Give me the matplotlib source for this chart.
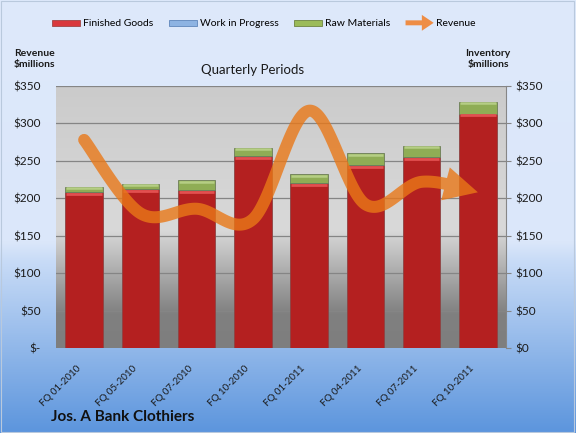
import numpy as np
import matplotlib
matplotlib.use('Agg')
import matplotlib.pyplot as plt
from matplotlib.patches import Polygon, Rectangle, FancyArrow, Patch, PathPatch
from matplotlib.path import Path
from matplotlib.collections import PatchCollection
from matplotlib.legend_handler import HandlerPatch
from matplotlib.colors import LinearSegmentedColormap
from matplotlib.transforms import ScaledTranslation

categories = ['FQ 01-2010', 'FQ 05-2010', 'FQ 07-2010', 'FQ 10-2010',
              'FQ 01-2011', 'FQ 04-2011', 'FQ 07-2011', 'FQ 10-2011']
finished_goods = [208, 212, 211, 256, 220, 244, 255, 313]
work_in_progress = [0, 0, 0, 0, 0, 0, 0, 0]
raw_materials = [7, 7, 13, 11, 12, 16, 15, 16]
revenue = [278, 180, 186, 172, 317, 192, 222, 208]
tick_values = [0, 50, 100, 150, 200, 250, 300, 350]
left_tick_labels = ['$-', '$50', '$100', '$150', '$200', '$250', '$300', '$350']
right_tick_labels = ['$0', '$50', '$100', '$150', '$200', '$250', '$300', '$350']

plt.rcParams['font.family'] = ['Lato', 'DejaVu Sans']

DPI = 100
fig = plt.figure(figsize=(5.76, 4.33), dpi=DPI)

# figure background gradient
bg = fig.add_axes([0, 0, 1, 1], zorder=-10)
bg_cmap = LinearSegmentedColormap.from_list(
    'bg', [(0, '#DEE9FB'), (0.56, '#DBE7FA'), (0.60, '#C9DCF7'), (1.0, '#5C95DD')])
grad = np.linspace(0, 1, 256).reshape(-1, 1)
bg.imshow(grad, aspect='auto', cmap=bg_cmap, extent=[0, 1, 0, 1], origin='upper')
bg.set_axis_off()
fig.patches.append(Rectangle((0.002, 0.003), 0.995, 0.994, transform=fig.transFigure,
                             fill=False, edgecolor='#B9C9DD', lw=0.8))

ax = fig.add_axes([56 / 576, 1 - 348 / 433, 450 / 576, 262 / 433])
ax.set_xlim(-0.5, len(categories) - 0.5)
ax.set_ylim(0, 350)

plot_cmap = LinearSegmentedColormap.from_list(
    'plot', [(0, '#CBCBCB'), (0.55, '#D9D9D9'), (0.87, '#808080'), (1.0, '#7E7E7E')])
ax.imshow(grad, aspect='auto', cmap=plot_cmap,
          extent=[-0.5, len(categories) - 0.5, 0, 350], origin='upper', zorder=0)

ax.set_yticks(tick_values, left_tick_labels)
ax.set_axisbelow(True)
ax.grid(axis='y', color='#858585', lw=0.9)
ax.tick_params(axis='y', length=0, pad=11, labelsize=8.5, labelcolor='#1a1a1a')
for s in ax.spines.values():
    s.set_visible(False)

x = np.arange(len(categories))
fg = np.array(finished_goods, float)
wip = np.array(work_in_progress, float)
rm = np.array(raw_materials, float)
w = 0.667
ax.bar(x, fg, w, color='#B42020', edgecolor='#8C4444', lw=0.6, zorder=2)
ax.bar(x, wip, w, bottom=fg, color='#7FA6DA', edgecolor='#5A7DB0', lw=0.6, zorder=2)
ax.bar(x, rm, w, bottom=fg + wip, color='#8FAD55', edgecolor='#6C7D56', lw=0.6, zorder=2)
ax.hlines(fg - 2.2, x - w / 2 + 0.02, x + w / 2 - 0.02, color='#E25050', lw=2.0, zorder=2.2)
ax.hlines(fg + wip + rm - 1.6, x - w / 2 + 0.02, x + w / 2 - 0.02, color='#B5CE84', lw=1.8, zorder=2.2)

ax.set_xticks(x, categories, rotation=45, ha='right', va='center', rotation_mode='anchor')
ax.tick_params(axis='x', length=0, pad=14, labelsize=7, labelcolor='#1a1a1a')
for lab in ax.get_xticklabels():
    lab.set_transform(lab.get_transform() + ScaledTranslation(-5 / 100, 0, fig.dpi_scale_trans))

# right axis
ax2 = ax.twinx()
ax2.set_ylim(0, 350)
ax2.set_yticks(tick_values, right_tick_labels)
ax2.patch.set_visible(False)
for k, s in ax2.spines.items():
    s.set_visible(k == 'right')
ax2.spines['right'].set_color('#868686')
ax2.spines['right'].set_linewidth(0.8)
ax2.tick_params(axis='y', direction='out', length=3.6, width=0.8, color='#868686',
                pad=3, labelsize=8.5, labelcolor='#1a1a1a')

# revenue smoothed arrow line
pts = np.column_stack([x.astype(float), np.array(revenue, float)])
disp = ax.transData.transform(pts)
n = len(disp)
curve = []
for i in range(n - 1):
    p0 = disp[i - 1] if i > 0 else disp[i]
    p1 = disp[i]
    p2 = disp[i + 1]
    p3 = disp[i + 2] if i + 2 < n else disp[i + 1]
    c1 = p1 + (p2 - p0) / 6
    c2 = p2 - (p3 - p1) / 6
    t = np.linspace(0, 1, 80)[:, None]
    if i > 0:
        t = t[1:]
    seg = (1 - t) ** 3 * p1 + 3 * (1 - t) ** 2 * t * c1 + 3 * (1 - t) * t ** 2 * c2 + t ** 3 * p2
    curve.append(seg)
curve = np.vstack(curve)
tip = disp[-1]
head_len = 33.0
head_hw = 17.0
dist = np.hypot(*(curve - tip).T)
idx = np.where(dist >= head_len)[0][-1]
base = curve[idx]
d = (tip - base) / np.hypot(*(tip - base))
nrm = np.array([-d[1], d[0]])
shaft = np.vstack([curve[:idx + 1], base + d * 4])
head = np.array([base - nrm * head_hw, tip, base + nrm * head_hw])
inv = ax.transData.inverted()
shaft_patch = PathPatch(Path(inv.transform(shaft)), facecolor='none', edgecolor='#E97818', lw=12 * 72 / DPI)
head_patch = Polygon(inv.transform(head), closed=True, facecolor='#E97818', edgecolor='none')
coll = PatchCollection([shaft_patch, head_patch], match_original=True, zorder=3)
coll.set_capstyle('round')
coll.set_joinstyle('round')


def fade(img, dpi):
    img = img.copy()
    img[..., 3] *= 0.8
    return img, 0, 0


coll.set_agg_filter(fade)
ax.add_collection(coll)

# legend
def make_arrow(legend, orig_handle, xdescent, ydescent, width, height, fontsize):
    return FancyArrow(-xdescent, -ydescent + height / 2, width, 0, width=height * 0.75,
                      head_width=height * 2.4, head_length=width * 0.42,
                      length_includes_head=True)


handles = [Patch(facecolor='#D9383C', edgecolor='#A04545', lw=0.6),
           Patch(facecolor='#8DB3E2', edgecolor='#5F86BA', lw=0.6),
           Patch(facecolor='#9BBB59', edgecolor='#6E8440', lw=0.6),
           FancyArrow(0, 0, 1, 0, facecolor='#EE8D45', edgecolor='none', lw=0)]
labels = ['Finished Goods', 'Work in Progress', 'Raw Materials', 'Revenue']
fig.legend(handles, labels, loc='center', bbox_to_anchor=(264 / 576, 1 - 24 / 433),
           ncol=4, frameon=False, fontsize=7.5, handlelength=2.7, handleheight=0.6,
           handletextpad=0.25, columnspacing=1.5,
           handler_map={FancyArrow: HandlerPatch(patch_func=make_arrow)})

fig.text(253 / 576, 1 - 70 / 433, 'Quarterly Periods', ha='center', va='center',
         fontsize=9.5, color='#1a1a1a')
fig.text(14 / 576, 1 - 59 / 433, 'Revenue\n$millions', ha='left', va='center',
         fontsize=7.5, fontweight='bold', linespacing=1.35, color='#1a1a1a')
fig.text(488 / 576, 1 - 59 / 433, 'Inventory\n$millions', ha='center', va='center',
         fontsize=7.5, fontweight='bold', linespacing=1.35, color='#1a1a1a')
fig.text(51 / 576, 1 - 417 / 433, 'Jos. A Bank Clothiers', ha='left', va='center',
         fontsize=11, fontweight='bold', color='#111111')

fig.savefig('out.png', dpi=DPI)
